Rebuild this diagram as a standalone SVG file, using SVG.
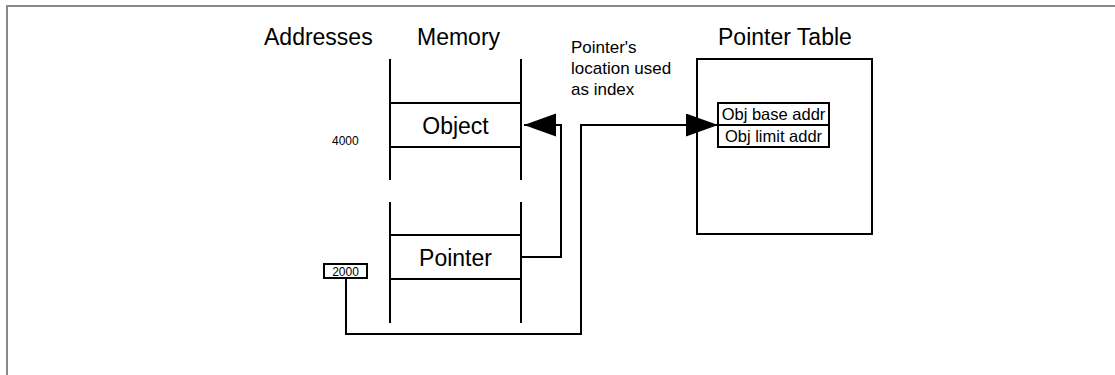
<svg xmlns="http://www.w3.org/2000/svg" width="1115" height="375" viewBox="0 0 1115 375">
<defs>
<style>
text{font-family:"Liberation Sans",Arial,sans-serif;fill:#000}
.big{font-size:23px}
.mid{font-size:17px}
.sm{font-size:16.5px}
.tiny{font-size:12px}
.ln{stroke:#000;stroke-width:2;fill:none}
.box{stroke:#000;stroke-width:2;fill:#fff}
</style>
<marker id="ah" markerUnits="userSpaceOnUse" markerWidth="34" markerHeight="24" refX="32" refY="11.5" orient="auto">
<path d="M0,0 L32,11.5 L0,23 Z" fill="#000"/>
</marker>
</defs>
<rect width="1115" height="375" fill="#fff"/>
<path d="M7,375 V6 H1115" stroke="#888" stroke-width="2" fill="none"/>
<g id="titles">
<text class="big" x="264" y="45">Addresses</text>
<text class="big" x="417" y="45">Memory</text>
<text class="big" x="718" y="45">Pointer Table</text>
</g>
<g id="note">
<text class="mid" x="571" y="53">Pointer's</text>
<text class="mid" x="571" y="74">location used</text>
<text class="mid" x="571" y="95">as index</text>
</g>
<g id="memory-object">
<path class="ln" d="M390,59 V180 M521,59 V180 M390,103 H521 M390,147 H521"/>
<text class="big" x="455.5" y="134" text-anchor="middle">Object</text>
</g>
<g id="addr-4000">
<text class="tiny" x="332" y="145">4000</text>
</g>
<g id="memory-pointer">
<path class="ln" d="M390,202 V323 M521,202 V323 M390,235 H521 M390,279 H521"/>
<text class="big" x="455.5" y="266" text-anchor="middle">Pointer</text>
</g>
<g id="addr-2000">
<rect class="box" x="324" y="264" width="43" height="14"/>
<text class="tiny" x="345.5" y="276" text-anchor="middle">2000</text>
</g>
<g id="pointer-table">
<rect class="box" x="697" y="59" width="175" height="175"/>
<rect class="box" x="718" y="103" width="111" height="22"/>
<rect class="box" x="718" y="125" width="111" height="22"/>
<text class="sm" x="773.5" y="120" text-anchor="middle">Obj base addr</text>
<text class="sm" x="773.5" y="142" text-anchor="middle">Obj limit addr</text>
</g>
<g id="connectors">
<path class="ln" d="M522,257 H561 V125 H524" marker-end="url(#ah)"/>
<path class="ln" d="M346,278 V334 H581 V125 H718" marker-end="url(#ah)"/>
</g>
</svg>
